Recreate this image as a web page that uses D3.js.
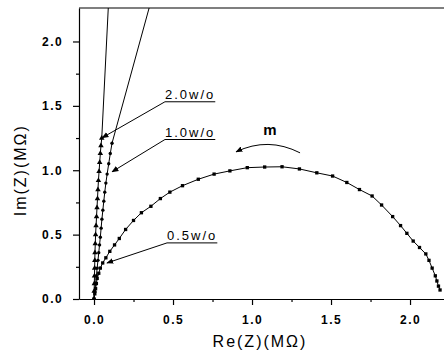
<!DOCTYPE html>
<html>
<head>
<meta charset="utf-8">
<script src="https://cdn.jsdelivr.net/npm/d3@7"></script>
<style>
  body { margin: 0; background: #fff; }
  svg { display: block; font-family: "Liberation Sans", Arial, sans-serif; }
  .axis path, .axis line { stroke: #000; stroke-width: 1.2; }
  .axis text { font-size: 12px; font-weight: bold; letter-spacing: 1.4px; fill: #000; }
</style>
</head>
<body>
<div id="chart"></div>
<script>
// Re(Z), Im(Z) in MOhm
const re05 = [0, 0.005, 0.01, 0.015, 0.02, 0.03, 0.04, 0.055, 0.075, 0.1, 0.13, 0.16, 0.2, 0.25, 0.3, 0.36,
  0.42, 0.48, 0.56, 0.66, 0.76, 0.86, 0.97, 1.08, 1.19, 1.30, 1.41, 1.51, 1.60, 1.68, 1.76, 1.82, 1.89,
  1.94, 1.98, 2.02, 2.06, 2.10, 2.12, 2.14, 2.16, 2.17, 2.18, 2.19];
const im05 = [0, 0.04, 0.08, 0.12, 0.16, 0.2, 0.24, 0.28, 0.32, 0.37, 0.42, 0.47, 0.54, 0.61, 0.67, 0.72,
  0.78, 0.83, 0.88, 0.93, 0.97, 0.995, 1.02, 1.025, 1.027, 1.01, 0.98, 0.955, 0.905, 0.85, 0.80, 0.73, 0.64,
  0.57, 0.51, 0.45, 0.40, 0.35, 0.30, 0.24, 0.18, 0.14, 0.10, 0.07];

const re10 = [0, 0.005, 0.01, 0.015, 0.02, 0.025, 0.03, 0.035, 0.04, 0.045, 0.05, 0.056, 0.062, 0.068,
  0.075, 0.083, 0.093, 0.103, 0.114, 0.38];
const im10 = [0, 0.06, 0.12, 0.18, 0.24, 0.3, 0.36, 0.42, 0.48, 0.55, 0.62, 0.69, 0.76, 0.83,
  0.9, 0.97, 1.05, 1.13, 1.21, 2.4];

const re20 = [0, 0.001, 0.002, 0.003, 0.004, 0.005, 0.006, 0.008, 0.01, 0.013, 0.016, 0.019, 0.022, 0.025,
  0.028, 0.032, 0.036, 0.04, 0.044, 0.049, 0.096];
const im20 = [0, 0.06, 0.12, 0.18, 0.24, 0.3, 0.36, 0.43, 0.5, 0.57, 0.64, 0.71, 0.78, 0.85,
  0.92, 0.99, 1.06, 1.13, 1.19, 1.25, 2.4];

const xTicks = [0, 0.5, 1.0, 1.5, 2.0];
const yTicks = [0, 0.5, 1.0, 1.5, 2.0];
const xMinor = [0.25, 0.75, 1.25, 1.75];
const yMinor = [0.25, 0.75, 1.25, 1.75];

// label text, label position (left, baseline) and arrow tip, in data units
const labels = [
  { text: '2.0w/o', x: 0.449, y: 1.555, tx: 0.051, ty: 1.252 },
  { text: '1.0w/o', x: 0.449, y: 1.262, tx: 0.114, ty: 0.988 },
  { text: '0.5w/o', x: 0.462, y: 0.459, tx: 0.082, ty: 0.280 }
];
const mLabel = { text: 'm', x: 1.114, y: 1.275 };
const mArc = [[1.304, 1.135], [1.101, 1.262], [0.899, 1.143]];

const width = 444, height = 356;
const margin = { top: 8, right: 0, bottom: 57, left: 79 };

const svg = d3.select('#chart').append('svg')
  .attr('width', width)
  .attr('height', height);

const x = d3.scaleLinear().domain([-0.095, 2.215]).range([margin.left, width - margin.right]);
const y = d3.scaleLinear().domain([0, 2.26]).range([height - margin.bottom, margin.top]);

svg.append('defs').append('clipPath').attr('id', 'plot')
  .append('rect')
  .attr('x', margin.left).attr('y', margin.top)
  .attr('width', width - margin.left - margin.right)
  .attr('height', height - margin.top - margin.bottom);

const marker = svg.select('defs').append('marker')
  .attr('id', 'head')
  .attr('viewBox', '0 0 10 10')
  .attr('refX', 9).attr('refY', 5)
  .attr('markerWidth', 7).attr('markerHeight', 7)
  .attr('markerUnits', 'userSpaceOnUse')
  .attr('orient', 'auto');
marker.append('path').attr('d', 'M0,1 L10,5 L0,9 Z').attr('fill', '#000');

// axes
svg.append('g')
  .attr('class', 'axis')
  .attr('transform', `translate(0,${y(0)})`)
  .call(d3.axisBottom(x).tickValues(xTicks).tickFormat(d3.format('.1f')).tickSize(6).tickPadding(10).tickSizeOuter(0));

svg.append('g')
  .attr('class', 'axis')
  .attr('transform', `translate(0,${y(0)})`)
  .call(d3.axisBottom(x).tickValues(xMinor).tickFormat('').tickSize(3).tickSizeOuter(0))
  .select('.domain').remove();

svg.append('g')
  .attr('class', 'axis')
  .attr('transform', `translate(${margin.left},0)`)
  .call(d3.axisLeft(y).tickValues(yTicks).tickFormat(d3.format('.1f')).tickSize(6).tickPadding(10).tickSizeOuter(0));

svg.append('g')
  .attr('class', 'axis')
  .attr('transform', `translate(${margin.left},0)`)
  .call(d3.axisLeft(y).tickValues(yMinor).tickFormat('').tickSize(3).tickSizeOuter(0))
  .select('.domain').remove();

svg.append('line')
  .attr('x1', margin.left).attr('x2', width - margin.right)
  .attr('y1', margin.top).attr('y2', margin.top)
  .attr('stroke', '#000').attr('stroke-width', 1.2);

// axis titles
svg.append('text')
  .attr('x', 260).attr('y', 347)
  .attr('text-anchor', 'middle')
  .attr('font-size', 16).attr('letter-spacing', '2px')
  .text('Re(Z)(MΩ)');

svg.append('text')
  .attr('transform', `translate(26,${y(1.0)}) rotate(-90)`)
  .attr('text-anchor', 'middle')
  .attr('font-size', 16).attr('letter-spacing', '2px')
  .text('Im(Z)(MΩ)');

// series
const series = [
  { re: re05, im: im05, sym: d3.symbolSquare, size: 11 },
  { re: re10, im: im10, sym: d3.symbolCircle, size: 9 },
  { re: re20, im: im20, sym: d3.symbolTriangle, size: 13 }
];

const line = d3.line().x(d => x(d[0])).y(d => y(d[1]));
const plot = svg.append('g').attr('clip-path', 'url(#plot)');

series.forEach(s => {
  const pts = s.re.map((v, i) => [v, s.im[i]]);
  plot.append('path')
    .datum(pts)
    .attr('d', line)
    .attr('fill', 'none')
    .attr('stroke', '#000')
    .attr('stroke-width', 1);
  plot.selectAll(null)
    .data(pts)
    .enter().append('path')
    .attr('transform', d => `translate(${x(d[0])},${y(d[1])})`)
    .attr('d', d3.symbol().type(s.sym).size(s.size))
    .attr('fill', '#000');
});

// labels with underline and arrow
labels.forEach(l => {
  const t = svg.append('text')
    .attr('x', x(l.x)).attr('y', y(l.y))
    .attr('font-size', 13).attr('letter-spacing', '2px')
    .text(l.text);
  const w = t.node().getComputedTextLength();
  svg.append('line')
    .attr('x1', x(l.x)).attr('x2', x(l.x) + w)
    .attr('y1', y(l.y) + 3).attr('y2', y(l.y) + 3)
    .attr('stroke', '#000').attr('stroke-width', 1);
  svg.append('line')
    .attr('x1', x(l.x)).attr('y1', y(l.y) + 3)
    .attr('x2', x(l.tx)).attr('y2', y(l.ty))
    .attr('stroke', '#000').attr('stroke-width', 1)
    .attr('marker-end', 'url(#head)');
});

svg.append('text')
  .attr('x', x(mLabel.x)).attr('y', y(mLabel.y))
  .attr('text-anchor', 'middle')
  .attr('font-size', 15).attr('font-weight', 'bold')
  .text(mLabel.text);

svg.append('path')
  .attr('d', `M${x(mArc[0][0])},${y(mArc[0][1])} Q${x(mArc[1][0])},${y(mArc[1][1])} ${x(mArc[2][0])},${y(mArc[2][1])}`)
  .attr('fill', 'none')
  .attr('stroke', '#000').attr('stroke-width', 1)
  .attr('marker-end', 'url(#head)');
</script>
</body>
</html>
